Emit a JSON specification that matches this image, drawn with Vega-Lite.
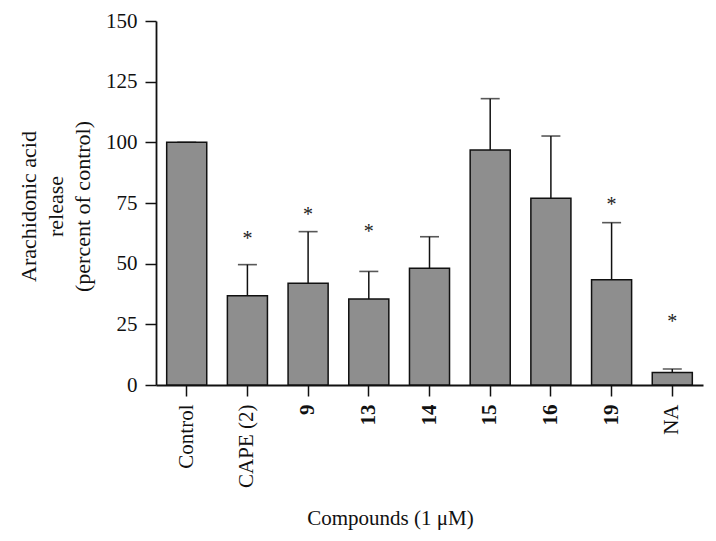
{
  "$schema": "https://vega.github.io/schema/vega-lite/v6.json",
  "autosize": "none",
  "width": 547,
  "height": 364,
  "padding": {"left": 156, "top": 21, "right": 13, "bottom": 156},
  "background": "white",
  "config": {
    "view": {"stroke": null},
    "font": "Liberation Serif"
  },
  "data": {
    "values": [
      {"compound": "Control", "value": 100, "err_top": 100, "sig_y": null},
      {"compound": "CAPE (2)", "value": 36.8, "err_top": 49.6, "sig_y": 62.2},
      {"compound": "9", "value": 41.9, "err_top": 63.2, "sig_y": 72.1},
      {"compound": "13", "value": 35.4, "err_top": 46.8, "sig_y": 65.2},
      {"compound": "14", "value": 48.1, "err_top": 61.1, "sig_y": null},
      {"compound": "15", "value": 96.8, "err_top": 118, "sig_y": null},
      {"compound": "16", "value": 77, "err_top": 102.6, "sig_y": null},
      {"compound": "19", "value": 43.4, "err_top": 66.9, "sig_y": 76.2},
      {"compound": "NA", "value": 5.1, "err_top": 6.6, "sig_y": 27.9}
    ]
  },
  "encoding": {
    "x": {
      "field": "compound",
      "type": "nominal",
      "sort": null,
      "scale": {"paddingInner": 0.34, "paddingOuter": 0.176},
      "axis": {
        "title": "Compounds (1 μM)",
        "titleFont": "Liberation Serif",
        "titleFontSize": 21,
        "titleFontWeight": "normal",
        "titleColor": "#111",
        "titleX": 234,
        "titleY": 133,
        "titleAlign": "center",
        "titleBaseline": "middle",
        "labelAngle": -90,
        "labelAlign": "right",
        "labelBaseline": "middle",
        "labelFont": "Liberation Serif",
        "labelFontSize": 21,
        "labelFontWeight": {
          "condition": {"test": "datum.value === 'Control' || datum.value === 'CAPE (2)' || datum.value === 'NA'", "value": "normal"},
          "value": "bold"
        },
        "labelColor": "#111",
        "labelPadding": 8,
        "tickSize": 11,
        "tickWidth": 1.5,
        "tickColor": "#111",
        "domainColor": "#111",
        "domainWidth": 1.8,
        "grid": false
      }
    }
  },
  "layer": [
    {
      "mark": {"type": "rule", "color": "#111", "strokeWidth": 1.5},
      "encoding": {
        "y": {"field": "value", "type": "quantitative"},
        "y2": {"field": "err_top"}
      }
    },
    {
      "mark": {"type": "tick", "color": "#111", "size": 19, "thickness": 1.6},
      "encoding": {
        "y": {"field": "err_top", "type": "quantitative"}
      }
    },
    {
      "mark": {"type": "bar", "fill": "#8e8e8e", "stroke": "#111", "strokeWidth": 1.5},
      "encoding": {
        "y": {
          "field": "value",
          "type": "quantitative",
          "scale": {"domain": [0, 150], "nice": false},
          "axis": {
            "title": ["Arachidonic acid", "release", "(percent of control)"],
            "titleFont": "Liberation Serif",
            "titleFontSize": 22,
            "titleFontWeight": "normal",
            "titleColor": "#111",
            "titleLineHeight": 27,
            "titleX": -128,
            "titleY": 185,
            "titleAlign": "center",
            "titleAngle": -90,
            "titleBaseline": "middle",
            "values": [0, 25, 50, 75, 100, 125, 150],
            "labelFont": "Liberation Serif",
            "labelFontSize": 21,
            "labelColor": "#111",
            "labelPadding": 8,
            "tickSize": 11,
            "tickWidth": 1.5,
            "tickColor": "#111",
            "domainColor": "#111",
            "domainWidth": 1.8,
            "grid": false
          }
        }
      }
    },
    {
      "mark": {"type": "text", "text": "*", "fontSize": 20, "font": "Liberation Serif", "color": "#222", "baseline": "middle", "dy": 5},
      "encoding": {
        "y": {"field": "sig_y", "type": "quantitative"}
      }
    }
  ]
}
